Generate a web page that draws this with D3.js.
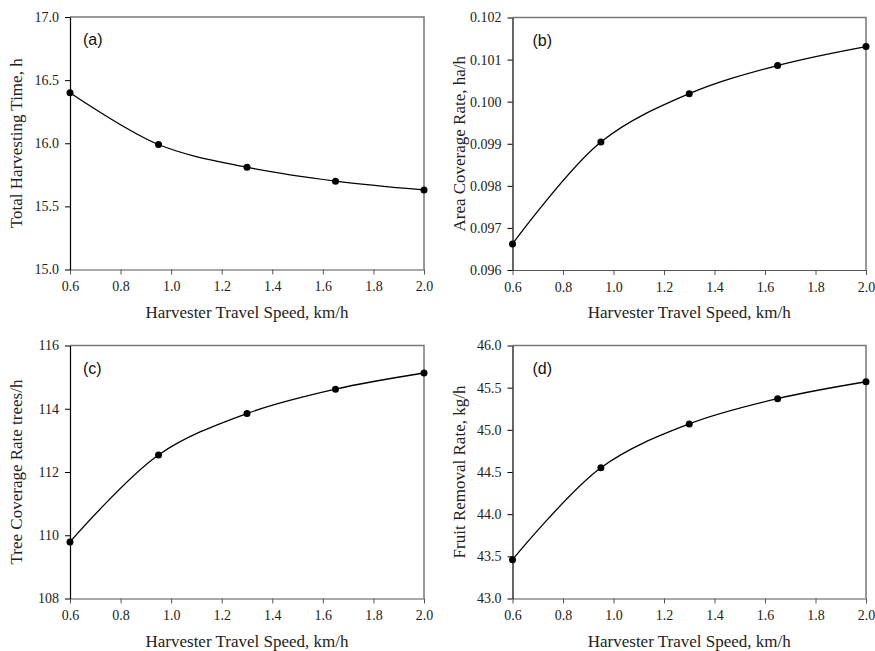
<!DOCTYPE html>
<html><head><meta charset="utf-8">
<script src="https://cdn.jsdelivr.net/npm/d3@7"></script>
<style>body{margin:0;background:#fff}svg{display:block}
.tk text{font-family:'Liberation Serif','Times New Roman',serif !important;font-size:14px !important;fill:#222}
</style>
</head><body>
<svg id="c" width="875" height="651"></svg>
<script>
const speeds = [0.6, 0.95, 1.3, 1.65, 2.0];
const xTicks = [0.6, 0.8, 1.0, 1.2, 1.4, 1.6, 1.8, 2.0];
const harvestTime = [16.40, 15.99, 15.81, 15.70, 15.63];
const areaRate = [0.09662, 0.09904, 0.10019, 0.10086, 0.10131];
const treeRate = [109.79, 112.54, 113.85, 114.62, 115.13];
const fruitRate = [43.46, 44.55, 45.07, 45.37, 45.57];
const panelLabels = ["(a)", "(b)", "(c)", "(d)"];
const yLabels = ["Total Harvesting Time, h", "Area Coverage Rate, ha/h", "Tree Coverage Rate trees/h", "Fruit Removal Rate, kg/h"];
const yDomains = [[15.0, 17.0], [0.096, 0.102], [108, 116], [43.0, 46.0]];
const yTicks = [
  [15.0, 15.5, 16.0, 16.5, 17.0],
  [0.096, 0.097, 0.098, 0.099, 0.100, 0.101, 0.102],
  [108, 110, 112, 114, 116],
  [43.0, 43.5, 44.0, 44.5, 45.0, 45.5, 46.0]
];
const yFormats = [".1f", ".3f", "d", ".1f"];
const series = [harvestTime, areaRate, treeRate, fruitRate];
const xLabel = "Harvester Travel Speed, km/h";

const boxes = [
  {l: 70, t: 17, w: 354, h: 252.5},
  {l: 512.5, t: 17.5, w: 353.5, h: 252.5},
  {l: 70, t: 345.5, w: 354, h: 253},
  {l: 512.5, t: 345.5, w: 353.5, h: 253}
];
const svg = d3.select("#c");
const serif = "'Liberation Serif','Times New Roman',serif";
const sans = "'Liberation Sans',Arial,sans-serif";

boxes.forEach((b, i) => {
  const g = svg.append("g").attr("transform", `translate(${b.l},${b.t})`);
  const x = d3.scaleLinear().domain([0.6, 2.0]).range([0, b.w]);
  const y = d3.scaleLinear().domain(yDomains[i]).range([b.h, 0]);
  g.append("path").attr("d", `M0,0H${b.w}V${b.h}`).attr("fill", "none")
    .attr("stroke", "#777").attr("stroke-width", 1.5);
  const xa = g.append("g").attr("class", "tk").attr("transform", `translate(0,${b.h})`)
    .call(d3.axisBottom(x).tickValues(xTicks).tickFormat(d3.format(".1f")).tickSizeInner(5).tickSizeOuter(0).tickPadding(7));
  xa.attr("font-family", serif).attr("font-size", 14);
  xa.select(".domain").attr("stroke", "#555").attr("stroke-width", 1.2);
  xa.selectAll(".tick line").attr("stroke", "#555");
  xa.selectAll(".tick text").style("font-family", serif).style("font-size", "14px");
  const ya = g.append("g").attr("class", "tk")
    .call(d3.axisLeft(y).tickValues(yTicks[i]).tickFormat(d3.format(yFormats[i])).tickSizeInner(5).tickSizeOuter(0).tickPadding(6));
  ya.attr("font-family", serif).attr("font-size", 14);
  ya.select(".domain").attr("stroke", "#000").attr("stroke-width", 1.2);
  ya.selectAll(".tick line").attr("stroke", "#000");
  ya.selectAll(".tick text").style("font-family", serif).style("font-size", "14px");
  g.append("text").attr("x", b.w / 2).attr("y", b.h + 48)
    .attr("text-anchor", "middle").style("font-family", serif).style("font-size", "17px").attr("fill", "#222").text(xLabel);
  g.append("text").attr("transform", `translate(${-48},${b.h / 2}) rotate(-90)`)
    .attr("text-anchor", "middle").style("font-family", serif).style("font-size", "17px").attr("fill", "#222").text(yLabels[i]);
  g.append("text").attr("x", i % 2 === 0 ? 13 : 20).attr("y", 28)
    .style("font-family", sans).style("font-size", "16px").attr("fill", "#111").text(panelLabels[i]);
  const data = speeds.map((s, k) => [s, series[i][k]]);
  g.append("path").datum(data).attr("fill", "none").attr("stroke", "#000").attr("stroke-width", 1.3)
    .attr("d", d3.line().x(d => x(d[0])).y(d => y(d[1])).curve(d3.curveCatmullRom.alpha(0.5)));
  g.selectAll("circle").data(data).join("circle")
    .attr("cx", d => x(d[0])).attr("cy", d => y(d[1])).attr("r", 3.5).attr("fill", "#000");
});
</script>
</body></html>
